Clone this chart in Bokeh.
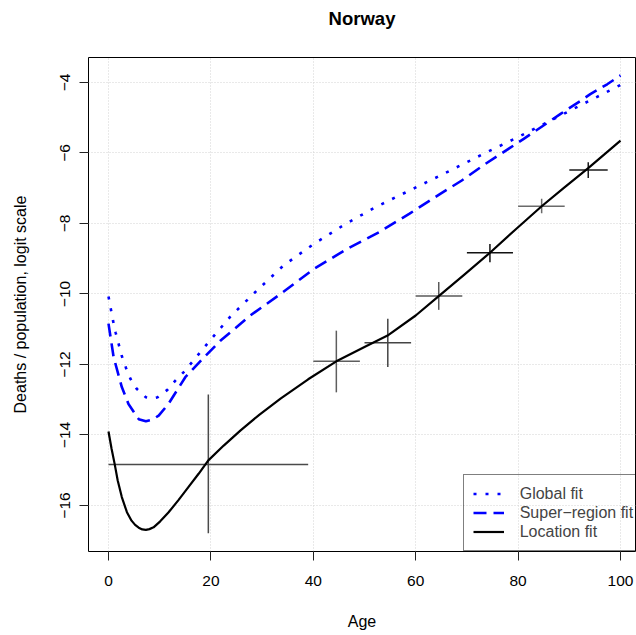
from bokeh.plotting import figure
from bokeh.models import Range1d, FixedTicker, Legend, LegendItem, Title
from bokeh.embed import file_html
from bokeh.resources import INLINE

# ---------------- data ----------------
title_text = "Norway"
x_label = "Age"
y_label = "Deaths / population, logit scale"

x_ticks = [0, 20, 40, 60, 80, 100]
x_tick_labels = ["0", "20", "40", "60", "80", "100"]
y_ticks = [-16, -14, -12, -10, -8, -6, -4]
y_tick_labels = ["\u221216", "\u221214", "\u221212", "\u221210", "\u22128", "\u22126", "\u22124"]

global_ages = [0, 0.45, 0.9, 1.4, 2.0, 2.6, 3.4, 4.3, 5.5, 7.3, 8.5, 9.6, 11.5, 13.1, 14.8,
               19.3, 23.8, 29.0, 34.2, 40.1, 46.0, 52.1, 58.0, 64.8, 73.3, 79.7, 86.1,
               92.4, 98.8, 100]
global_fit = [-10.07, -10.42, -10.77, -11.10, -11.43, -11.76, -12.09, -12.41, -12.69, -12.93,
              -12.97, -12.93, -12.72, -12.45, -12.20, -11.41, -10.64, -9.90, -9.19, -8.58,
              -8.04, -7.54, -7.12, -6.64, -6.02, -5.57, -5.10, -4.63, -4.16, -4.07]

super_ages = [0, 1.0, 2.6, 3.9, 5.9, 7.3, 8.5, 9.8, 11.7, 15.0, 18.5, 21.9, 27.7, 33.6,
              40.1, 46.6, 52.8, 58.8, 64.8, 69.0, 73.6, 81.1, 88.3, 92.2, 94.1, 97.4, 100]
super_fit = [-10.84, -11.79, -12.64, -13.12, -13.55, -13.61, -13.57, -13.45, -13.12, -12.36,
             -11.82, -11.32, -10.61, -10.00, -9.29, -8.72, -8.25, -7.72, -7.16, -6.78,
             -6.31, -5.60, -4.89, -4.52, -4.33, -4.05, -3.80]

loc_ages = [0, 0.6, 1.2, 1.8, 2.6, 3.6, 4.5, 5.2, 5.9, 6.6, 7.3, 8.0, 8.8, 10.1, 11.7, 13.7,
            15.6, 17.6, 19.5, 22.5, 25.8, 29.5, 33.6, 39.0, 44.5, 49.9, 54.5, 60.0, 64.5,
            69.5, 74.5, 79.5, 84.6, 89.0, 93.7, 100]
loc_fit = [-13.90, -14.39, -14.82, -15.29, -15.76, -16.19, -16.43, -16.55, -16.63, -16.68,
           -16.69, -16.67, -16.62, -16.45, -16.20, -15.84, -15.48, -15.10, -14.72, -14.30,
           -13.87, -13.42, -12.97, -12.42, -11.91, -11.51, -11.18, -10.61, -10.06, -9.45,
           -8.83, -8.17, -7.51, -6.98, -6.43, -5.65]

obs_age_lo = [0, 40, 50, 60, 70, 80, 90]
obs_age_hi = [39, 49.1, 59.1, 69.1, 79, 89.1, 97.5]
obs_age_mid = [19.5, 44.5, 54.55, 64.5, 74.5, 84.6, 93.7]
obs_value = [-14.84, -11.91, -11.38, -10.06, -8.83, -7.51, -6.48]
obs_lo = [-16.79, -12.79, -12.07, -10.45, -9.10, -7.71, -6.71]
obs_hi = [-12.85, -11.04, -10.70, -9.66, -8.58, -7.30, -6.26]

legend_labels = ["Global fit", "Super\u2212region fit", "Location fit"]

# ---------------- styles ----------------
FONT = "Liberation Sans"
cross_colors = ["#4a4a4a", "#5e5e5e", "#444444", "#5a5a5a", "#111111", "#6a6a6a", "#1a1a1a"]

p = figure(width=636, height=635, output_backend="svg", toolbar_location=None, title=None,
           x_range=Range1d(-3.906, 102.93), y_range=Range1d(-17.305, -3.291),
           min_border_left=88, min_border_right=1, min_border_top=57, min_border_bottom=84,
           background_fill_color="white", border_fill_color="white")

# spacer (closest to frame) then the real title (outermost)
p.add_layout(Title(text=" ", text_font_size="1px", standoff=20), "above")
p.add_layout(Title(text=title_text, align="center", offset=2.5, standoff=11,
                   text_font=FONT, text_font_size="18.5px", text_font_style="bold",
                   text_color="black"), "above")

p.outline_line_color = "black"
p.outline_line_width = 1

for ax in (p.xaxis[0], p.yaxis[0]):
    ax.axis_line_color = None
    ax.major_tick_out = 9
    ax.major_tick_in = 0
    ax.minor_tick_line_color = None
    ax.major_tick_line_color = "#222222"
    ax.major_label_text_font = FONT
    ax.major_label_text_font_size = "15.5px"
    ax.major_label_text_color = "black"
    ax.axis_label_text_font = FONT
    ax.axis_label_text_font_size = "16px"
    ax.axis_label_text_font_style = "normal"
    ax.axis_label_text_color = "black"

p.xaxis.ticker = FixedTicker(ticks=x_ticks)
p.xaxis.major_label_overrides = dict(zip(x_ticks, x_tick_labels))
p.xaxis.axis_label = x_label
p.xaxis.major_label_standoff = 15
p.xaxis.axis_label_standoff = 24

p.yaxis.ticker = FixedTicker(ticks=y_ticks)
p.yaxis.major_label_overrides = dict(zip(y_ticks, y_tick_labels))
p.yaxis.major_label_orientation = "vertical"
p.yaxis.axis_label = y_label
p.yaxis.major_label_standoff = 9
p.yaxis.axis_label_standoff = 29

for g in (p.xgrid[0], p.ygrid[0]):
    g.grid_line_color = "#d3d3d3"
    g.grid_line_dash = "1 2"
    g.grid_line_width = 1

# observations (crosses)
p.segment(x0=obs_age_lo, x1=obs_age_hi, y0=obs_value, y1=obs_value,
          line_color=cross_colors, line_width=1.5)
p.segment(x0=obs_age_mid, x1=obs_age_mid, y0=obs_lo, y1=obs_hi,
          line_color=cross_colors, line_width=1.5)

r_g = p.line(global_ages, global_fit, line_color="#0000ff", line_width=2.6, line_dash="3 9")
r_s = p.line(super_ages, super_fit, line_color="#0000ff", line_width=2.6, line_dash="13 7")
r_l = p.line(loc_ages, loc_fit, line_color="black", line_width=2.2, line_join="round")

legend = Legend(items=[LegendItem(label=legend_labels[0], renderers=[r_g]),
                       LegendItem(label=legend_labels[1], renderers=[r_s]),
                       LegendItem(label=legend_labels[2], renderers=[r_l])],
                location=(374.7, 0), margin=0, padding=9, spacing=0,
                label_height=19, glyph_height=19, glyph_width=31, label_standoff=16,
                label_text_font=FONT, label_text_font_size="16px",
                border_line_color="black", border_line_width=1,
                background_fill_alpha=0.0)
p.add_layout(legend, "center")

open("out.html", "w").write(file_html(p, INLINE))
